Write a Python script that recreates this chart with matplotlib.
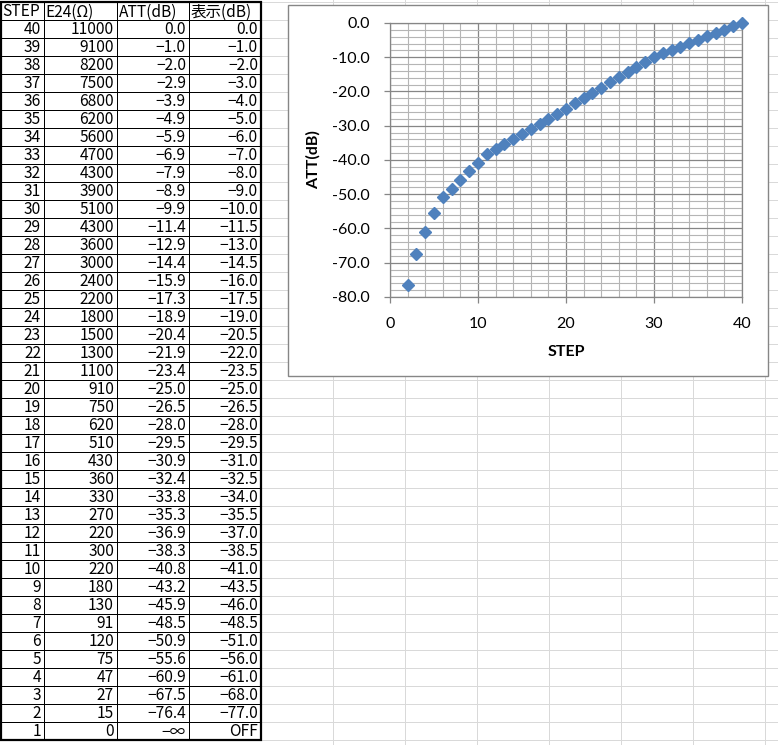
# ====================================================
# Attenuator step table with ATT(dB) scatter chart
# ====================================================
import numpy as np
from matplotlib import pyplot as plt
from matplotlib.patches import Rectangle
from matplotlib.ticker import MultipleLocator, FuncFormatter

plt.rcParams["font.family"] = ["Noto Sans CJK JP", "DejaVu Sans"]

# ====================================================
# Data
# ====================================================
steps = [40, 39, 38, 37, 36, 35, 34, 33, 32, 31, 30, 29, 28, 27, 26, 25, 24, 23, 22, 21,
         20, 19, 18, 17, 16, 15, 14, 13, 12, 11, 10, 9, 8, 7, 6, 5, 4, 3, 2, 1]
e24_ohm = [11000, 9100, 8200, 7500, 6800, 6200, 5600, 4700, 4300, 3900, 5100, 4300, 3600,
           3000, 2400, 2200, 1800, 1500, 1300, 1100, 910, 750, 620, 510, 430, 360, 330,
           270, 220, 300, 220, 180, 130, 91, 120, 75, 47, 27, 15, 0]
att_db = [0.0, -1.0, -2.0, -2.9, -3.9, -4.9, -5.9, -6.9, -7.9, -8.9, -9.9, -11.4, -12.9,
          -14.4, -15.9, -17.3, -18.9, -20.4, -21.9, -23.4, -25.0, -26.5, -28.0, -29.5,
          -30.9, -32.4, -33.8, -35.3, -36.9, -38.3, -40.8, -43.2, -45.9, -48.5, -50.9,
          -55.6, -60.9, -67.5, -76.4, -np.inf]
disp_db = [0.0, -1.0, -2.0, -3.0, -4.0, -5.0, -6.0, -7.0, -8.0, -9.0, -10.0, -11.5, -13.0,
           -14.5, -16.0, -17.5, -19.0, -20.5, -22.0, -23.5, -25.0, -26.5, -28.0, -29.5,
           -31.0, -32.5, -34.0, -35.5, -37.0, -38.5, -41.0, -43.5, -46.0, -48.5, -51.0,
           -56.0, -61.0, -68.0, -77.0, None]
headers = ["STEP", "E24(Ω)", "ATT(dB)", "表示(dB)"]

W, H = 778, 745
ROW_H = 18
TOP = 2
COL_X = [1, 44, 117, 189, 261]
GRID_GRAY = "#d9d9d9"
BLUE = "#4f81bd"


def fmt_db(v):
    if v is None:
        return "OFF"
    if np.isinf(v):
        return "−∞"
    return f"{v:.1f}".replace("-", "−")


def px_to_fig(x0, y0, x1, y1):
    return [x0 / W, 1 - y1 / H, (x1 - x0) / W, (y1 - y0) / H]


# ====================================================
# Main function
# ====================================================
def main() -> None:
    fig = plt.figure(figsize=(W / 100, H / 100), dpi=100)

    # ----------------------------------------------------
    # Spreadsheet background (pixel coordinates)
    # ----------------------------------------------------
    bg = fig.add_axes([0, 0, 1, 1])
    bg.set_xlim(0, W)
    bg.set_ylim(H, 0)
    bg.axis("off")

    n_rows = len(steps) + 1
    for k in range(n_rows + 1):
        y = TOP + k * ROW_H
        bg.plot([COL_X[-1], W], [y, y], color=GRID_GRAY, lw=0.72, zorder=0)
    for x in range(COL_X[-1] + 72, W, 72):
        bg.plot([x, x], [0, H], color=GRID_GRAY, lw=0.72, zorder=0)

    # ----------------------------------------------------
    # Table
    # ----------------------------------------------------
    y_bot = TOP + n_rows * ROW_H
    for k in range(1, n_rows):
        y = TOP + k * ROW_H
        bg.plot([COL_X[0], COL_X[-1]], [y, y], color="black", lw=0.72, zorder=2)
    for x in COL_X[1:-1]:
        bg.plot([x, x], [TOP, y_bot], color="black", lw=0.72, zorder=2)
    bg.add_patch(Rectangle((COL_X[0], TOP), COL_X[-1] - COL_X[0], y_bot - TOP,
                           fill=False, edgecolor="black", lw=1.6, zorder=3))

    fs = 11.2
    for j, h in enumerate(headers):
        bg.text(COL_X[j] + 1.5, TOP + ROW_H / 2 + 1, h, ha="left", va="center",
                fontsize=fs, zorder=4)
    for i in range(len(steps)):
        yc = TOP + (i + 1) * ROW_H + ROW_H / 2 + 1
        cells = [str(steps[i]), str(e24_ohm[i]), fmt_db(att_db[i]), fmt_db(disp_db[i])]
        for j, txt in enumerate(cells):
            bg.text(COL_X[j + 1] - 3, yc, txt, ha="right", va="center",
                    fontsize=fs, zorder=4)

    # ----------------------------------------------------
    # Chart frame
    # ----------------------------------------------------
    bg.add_patch(Rectangle((288, 5), 480, 371, facecolor="white",
                           edgecolor="#868686", lw=1.0, zorder=5))

    # ----------------------------------------------------
    # Chart
    # ----------------------------------------------------
    x_pts = [s for s, a in zip(steps, att_db) if np.isfinite(a)]
    y_pts = [a for a in att_db if np.isfinite(a)]

    ax = fig.add_axes(px_to_fig(390, 23, 742, 297))
    ax.set_zorder(6)
    ax.plot(x_pts, y_pts, linestyle="none", marker="D", markersize=5.8,
            color=BLUE, markeredgecolor=BLUE, clip_on=False, zorder=5)

    ax.set_xlim(0, 40)
    ax.set_ylim(-80, 0)
    ax.xaxis.set_major_locator(MultipleLocator(10))
    ax.xaxis.set_minor_locator(MultipleLocator(2))
    ax.yaxis.set_major_locator(MultipleLocator(10))
    ax.yaxis.set_minor_locator(MultipleLocator(2))
    ax.yaxis.set_major_formatter(FuncFormatter(lambda v, p: f"{v:.1f}"))
    ax.xaxis.set_major_formatter(FuncFormatter(lambda v, p: f"{v:.0f}"))

    ax.grid(which="major", color="#868686", lw=0.9)
    ax.grid(which="minor", color="#b5b5b5", lw=0.8)
    ax.set_axisbelow(True)
    for sp in ax.spines.values():
        sp.set_color("#868686")
        sp.set_linewidth(0.9)

    ax.tick_params(which="major", direction="out", length=4.5, width=0.9,
                   color="#868686", labelsize=11.5, pad=10)
    ax.tick_params(which="minor", length=0)
    for lab in ax.get_xticklabels() + ax.get_yticklabels():
        lab.set_fontfamily("Lato")

    ax.set_xlabel("STEP", fontfamily="Lato", fontweight="bold", fontsize=11.5, labelpad=10)
    ax.set_ylabel("ATT(dB)", fontfamily="Lato", fontweight="bold", fontsize=11.5, labelpad=8)

    fig.savefig("out.png", dpi=100)
    plt.close(fig)


# ====================================================
# Run main function
# ====================================================
if __name__ == "__main__":
    main()
